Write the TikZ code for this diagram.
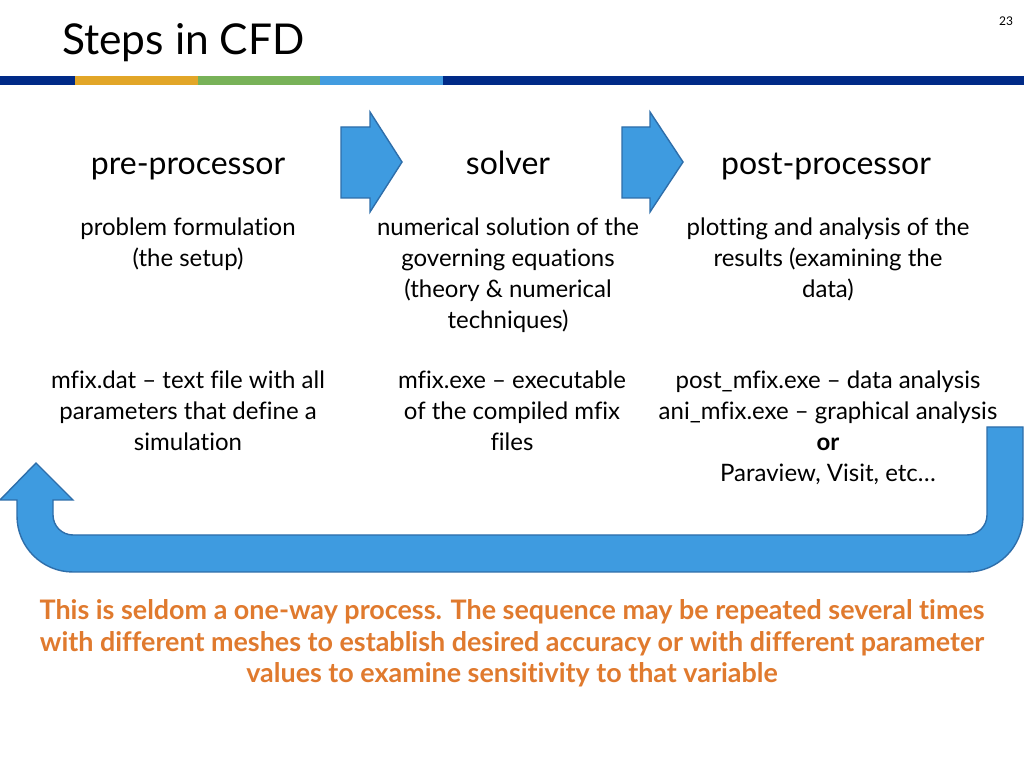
\documentclass[tikz,border=0pt]{standalone}
\usepackage{fontspec}
\setmainfont{Lato}[RawFeature={-liga}]
\definecolor{barblue}{RGB}{0,42,135}
\definecolor{barorange}{RGB}{226,166,40}
\definecolor{bargreen}{RGB}{120,178,88}
\definecolor{barlight}{RGB}{66,156,224}
\definecolor{arrowfill}{RGB}{62,155,224}
\definecolor{arrowline}{RGB}{46,110,170}
\definecolor{noteorange}{RGB}{224,122,46}
\tikzset{
  bigarrow/.style={fill=arrowfill, draw=arrowline, line width=1.4pt, line join=miter},
  heading/.style={anchor=base, inner sep=0pt, font=\fontsize{32}{36}\selectfont},
  body/.style={anchor=base, inner sep=0pt, align=center, font=\fontsize{24}{31}\selectfont},
  note/.style={anchor=base, inner sep=0pt, align=center, text=noteorange, font=\bfseries\fontsize{26.9}{31}\selectfont},
}
\begin{document}
\begin{tikzpicture}[x=1pt,y=1pt]
\useasboundingbox (0,0) rectangle (1024,768);
\fill[white] (0,0) rectangle (1024,768);
% title and page number
\node[anchor=base west, inner sep=0pt, font=\fontsize{42.5}{50}\selectfont] (title) at (62,713) {Steps in CFD};
\node[anchor=base, inner sep=0pt, font=\fontsize{12}{14}\selectfont] (page) at (1006,742) {23};
% colour bar
\fill[barblue] (0,683) rectangle (75,692);
\fill[barorange] (75,683) rectangle (198,692);
\fill[bargreen] (198,683) rectangle (320,692);
\fill[barlight] (320,683) rectangle (443,692);
\fill[barblue] (443,683) rectangle (1024,692);
% block arrows
\draw[bigarrow] (341,570) -- (370,570) -- (370,556) -- (402,606) -- (370,656) -- (370,641) -- (341,641) -- cycle;
\draw[bigarrow] (622,570) -- (650,570) -- (650,556) -- (683,606) -- (650,656) -- (650,641) -- (622,641) -- cycle;
% headings
\node[heading] (pre) at (188,593) {pre-processor};
\node[heading] (solver) at (508,593) {solver};
\node[heading] (post) at (826,593) {post-processor};
% descriptions (anchor = baseline of last line)
\node[body] (predesc) at (188,501) {problem formulation\\(the setup)};
\node[body] (soldesc) at (508,439) {numerical solution of the\\governing equations\\(theory \& numerical\\techniques)};
\node[body] (postdesc) at (828,470) {plotting and analysis of the\\results (examining the\\data)};
% files
\node[body] (prefile) at (188,317) {mfix.dat – text file with all\\parameters that define a\\simulation};
\node[body] (solfile) at (512,317) {mfix.exe – executable\\of the compiled mfix\\files};
\node[body] (postfile) at (828,286) {post\_mfix.exe – data analysis\\ani\_mfix.exe – graphical analysis\\\textbf{or}\\Paraview, Visit, etc…};
% U-turn arrow
\draw[bigarrow] (1023,341) -- (1023,252) arc[start angle=0, end angle=-90, radius=56]
  -- (73,196) arc[start angle=270, end angle=180, radius=56]
  -- (17,268) -- (0,268) -- (36,305) -- (73,268) -- (53,268) -- (53,253)
  arc[start angle=180, end angle=270, radius=20] -- (967,233)
  arc[start angle=270, end angle=360, radius=20] -- (987,341) -- cycle;
% note
\node[note] (note) at (512,86) {This is seldom a one-way process. The sequence may be repeated several times\\with different meshes to establish desired accuracy or with different parameter\\values to examine sensitivity to that variable};
\end{tikzpicture}
\end{document}
